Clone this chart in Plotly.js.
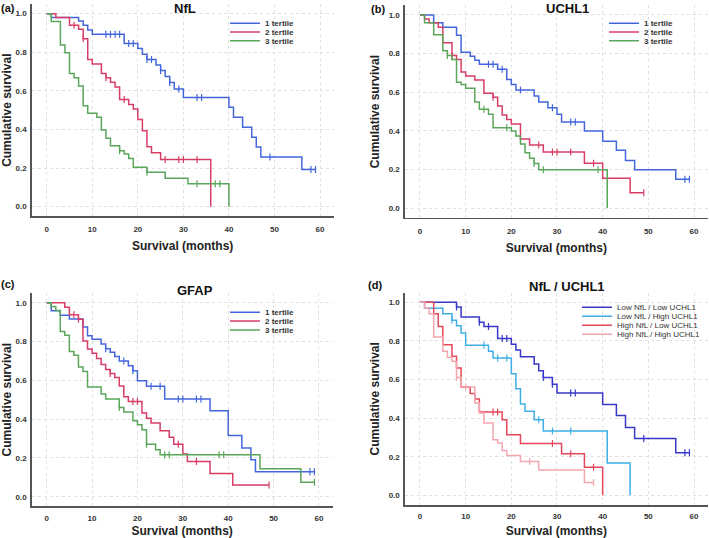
<!DOCTYPE html>
<html>
<head>
<meta charset="utf-8">
<script src="https://cdn.plot.ly/plotly-3.0.1.min.js"></script>
<style>
  body { margin: 0; background: #fff; }
  #chart { width: 709px; height: 538px; }
</style>
</head>
<body>
<div id="chart"></div>
<script>
// ---- data ----
// each curve: event times (months), survival after each event, censored times

// (a) NfL
let nflT1Time = [1, 7, 8, 9, 10, 17, 20, 21, 22, 24, 25, 26, 27, 28, 30, 40, 41, 43, 45, 46, 47, 56];
let nflT1Surv = [0.98, 0.962, 0.94, 0.915, 0.893, 0.846, 0.82, 0.79, 0.763, 0.734, 0.705, 0.674, 0.643, 0.61, 0.566, 0.515, 0.463, 0.412, 0.36, 0.309, 0.257, 0.193];
let nflT1Cens = [13, 14, 15, 16, 18, 19, 22, 23, 25, 27, 29, 33, 34, 49, 58, 59];
let nflT2Time = [2, 5, 7, 8, 9, 10, 12, 13, 14, 15, 16, 18, 19, 20, 21, 22, 23, 25, 36];
let nflT2Surv = [0.98, 0.94, 0.92, 0.87, 0.763, 0.739, 0.69, 0.668, 0.645, 0.62, 0.556, 0.53, 0.506, 0.452, 0.394, 0.311, 0.28, 0.245, 0];
let nflT2Cens = [6, 8, 13, 17, 26, 29, 30, 33];
let nflT3Time = [1, 3, 4, 5, 6, 7, 8, 9, 11, 12, 13, 14, 16, 17, 18, 19, 22, 26, 31, 40];
let nflT3Surv = [0.96, 0.838, 0.798, 0.69, 0.668, 0.625, 0.523, 0.484, 0.463, 0.397, 0.354, 0.316, 0.29, 0.273, 0.25, 0.204, 0.178, 0.147, 0.119, 0];
let nflT3Cens = [16, 22, 33, 37, 38];

// (b) UCHL1
let uchT1Time = [3, 5, 8, 9, 11, 12, 13, 17, 19, 20, 21, 25, 26, 28, 30, 31, 36, 40, 43, 45, 47, 56];
let uchT1Surv = [0.96, 0.936, 0.895, 0.807, 0.786, 0.766, 0.745, 0.719, 0.667, 0.641, 0.612, 0.581, 0.55, 0.52, 0.486, 0.447, 0.40, 0.347, 0.30, 0.248, 0.20, 0.15];
let uchT1Cens = [15, 16, 18, 22, 29, 33, 34, 58, 59];
let uchT2Time = [1, 2, 4, 5, 7, 8, 9, 10, 12, 14, 16, 17, 18, 19, 20, 22, 24, 27, 36, 40, 46];
let uchT2Surv = [0.979, 0.96, 0.936, 0.857, 0.79, 0.77, 0.705, 0.684, 0.664, 0.595, 0.574, 0.529, 0.483, 0.46, 0.436, 0.359, 0.328, 0.291, 0.233, 0.155, 0.081];
let uchT2Cens = [7, 16, 26, 29, 30, 33, 38, 49];
let uchT3Time = [1, 3, 5, 6, 7, 8, 9, 10, 12, 13, 15, 16, 20, 21, 22, 23, 24, 25, 26, 41];
let uchT3Surv = [0.96, 0.898, 0.815, 0.79, 0.77, 0.652, 0.641, 0.621, 0.55, 0.512, 0.486, 0.417, 0.40, 0.374, 0.333, 0.288, 0.259, 0.232, 0.20, 0];
let uchT3Cens = [6, 14, 19, 25, 27, 39];

// (c) GFAP
let gfT1Time = [1, 3, 5, 8, 9, 10, 12, 13, 14, 15, 16, 18, 19, 20, 22, 26, 36, 40, 43, 45, 46];
let gfT1Surv = [0.959, 0.935, 0.916, 0.875, 0.83, 0.811, 0.787, 0.763, 0.745, 0.723, 0.699, 0.675, 0.649, 0.598, 0.569, 0.503, 0.443, 0.316, 0.251, 0.19, 0.129];
let gfT1Cens = [13, 17, 19, 23, 25, 29, 30, 33, 34, 58, 59];
let gfT2Time = [4, 5, 7, 8, 9, 10, 11, 12, 13, 14, 15, 16, 17, 18, 21, 22, 23, 25, 27, 28, 30, 31, 36, 41];
let gfT2Surv = [0.976, 0.938, 0.915, 0.802, 0.761, 0.74, 0.713, 0.682, 0.656, 0.635, 0.615, 0.57, 0.515, 0.491, 0.431, 0.405, 0.38, 0.34, 0.306, 0.271, 0.22, 0.182, 0.12, 0.06];
let gfT2Cens = [6, 7, 14, 19, 20, 29, 33, 49];
let gfT3Time = [1, 2, 3, 4, 5, 6, 7, 8, 9, 12, 13, 16, 17, 19, 20, 21, 22, 24, 25, 47, 56];
let gfT3Surv = [0.98, 0.96, 0.852, 0.832, 0.749, 0.729, 0.668, 0.646, 0.565, 0.529, 0.503, 0.46, 0.436, 0.392, 0.371, 0.345, 0.271, 0.242, 0.216, 0.144, 0.074];
let gfT3Cens = [16, 22, 26, 27, 38, 39, 59];

// (d) NfL / UCHL1
let llTime = [8, 9, 13, 14, 17, 20, 21, 22, 25, 26, 27, 29, 30, 40, 43, 45, 47, 56];
let llSurv = [0.976, 0.924, 0.896, 0.874, 0.813, 0.782, 0.753, 0.718, 0.68, 0.646, 0.61, 0.575, 0.53, 0.47, 0.414, 0.352, 0.294, 0.221];
let llCens = [8, 13, 15, 18, 19, 27, 29, 33, 34, 49, 58, 59];
let lhTime = [1, 5, 7, 8, 9, 10, 15, 16, 20, 21, 22, 23, 25, 27, 41, 46];
let lhSurv = [0.969, 0.941, 0.907, 0.879, 0.841, 0.777, 0.746, 0.712, 0.63, 0.552, 0.473, 0.435, 0.392, 0.333, 0.168, 0];
let lhCens = [7, 14, 17, 19, 26, 29, 33];
let hlTime = [3, 4, 5, 7, 8, 9, 11, 12, 13, 18, 19, 22, 31, 36, 40];
let hlSurv = [0.94, 0.875, 0.78, 0.72, 0.66, 0.56, 0.528, 0.499, 0.432, 0.392, 0.314, 0.268, 0.216, 0.145, 0];
let hlCens = [16, 17, 29, 33, 38];
let hhTime = [1, 2, 3, 5, 6, 7, 8, 9, 12, 13, 14, 16, 17, 18, 19, 22, 26, 36];
let hhSurv = [0.97, 0.94, 0.82, 0.746, 0.715, 0.694, 0.611, 0.561, 0.478, 0.427, 0.375, 0.288, 0.271, 0.233, 0.206, 0.176, 0.131, 0.066];
let hhCens = [8, 10, 24, 38];

let tertileNames = ['1 tertile', '2 tertile', '3 tertile'];
let groupNames = ['Low NfL / Low UCHL1', 'Low NfL / High UCHL1', 'High NfL / Low UCHL1', 'High NfL / High UCHL1'];
let panelTitles = ['NfL', 'UCHL1', 'GFAP', 'NfL / UCHL1'];
let panelLabels = ['(a)', '(b)', '(c)', '(d)'];
let xTicks = [0, 10, 20, 30, 40, 50, 60];
let yTicks = [0, 0.2, 0.4, 0.6, 0.8, 1.0];

// ---- helpers ----
const FONT = 'Liberation Sans, Arial, sans-serif';
const tertileColors = ['#4466dd', '#d83d66', '#5aa65a'];
const groupColors = ['#3838c8', '#3eaee6', '#e5485a', '#f3a6ae'];

// step curve from km data, extended to the last censored time
function stepXY(times, surv, cens) {
  let lastT = times[times.length - 1];
  let end = Math.max(lastT, cens.length ? cens[cens.length - 1] : 0);
  let x = [0].concat(times);
  let y = [1].concat(surv);
  if (end > lastT) { x.push(end); y.push(surv[surv.length - 1]); }
  return { x: x, y: y };
}

function survAt(times, surv, t) {
  let s = 1;
  for (let i = 0; i < times.length; i++) if (times[i] <= t) s = surv[i];
  return s;
}

let data = [];
let legendCount = 0;

function addCurve(times, surv, cens, name, color, axisNum) {
  let xa = axisNum === 1 ? 'x' : 'x' + axisNum;
  let ya = axisNum === 1 ? 'y' : 'y' + axisNum;
  legendCount++;
  let leg = legendCount === 1 ? 'legend' : 'legend' + legendCount;
  let xy = stepXY(times, surv, cens);
  data.push({
    x: xy.x, y: xy.y, xaxis: xa, yaxis: ya,
    type: 'scatter', mode: 'lines', name: name,
    line: { shape: 'hv', color: color, width: 1.5 },
    legend: leg
  });
  data.push({
    x: cens, y: cens.map(t => survAt(times, surv, t)), xaxis: xa, yaxis: ya,
    type: 'scatter', mode: 'markers', showlegend: false,
    marker: { symbol: 'line-ns', size: 5, line: { color: color, width: 1.2 } }
  });
}

addCurve(nflT1Time, nflT1Surv, nflT1Cens, tertileNames[0], tertileColors[0], 1);
addCurve(nflT2Time, nflT2Surv, nflT2Cens, tertileNames[1], tertileColors[1], 1);
addCurve(nflT3Time, nflT3Surv, nflT3Cens, tertileNames[2], tertileColors[2], 1);
addCurve(uchT1Time, uchT1Surv, uchT1Cens, tertileNames[0], tertileColors[0], 2);
addCurve(uchT2Time, uchT2Surv, uchT2Cens, tertileNames[1], tertileColors[1], 2);
addCurve(uchT3Time, uchT3Surv, uchT3Cens, tertileNames[2], tertileColors[2], 2);
addCurve(gfT1Time, gfT1Surv, gfT1Cens, tertileNames[0], tertileColors[0], 3);
addCurve(gfT2Time, gfT2Surv, gfT2Cens, tertileNames[1], tertileColors[1], 3);
addCurve(gfT3Time, gfT3Surv, gfT3Cens, tertileNames[2], tertileColors[2], 3);
addCurve(llTime, llSurv, llCens, groupNames[0], groupColors[0], 4);
addCurve(lhTime, lhSurv, lhCens, groupNames[1], groupColors[1], 4);
addCurve(hlTime, hlSurv, hlCens, groupNames[2], groupColors[2], 4);
addCurve(hhTime, hhSurv, hhCens, groupNames[3], groupColors[3], 4);

// ---- layout ----
const W = 709, H = 538;

function xAxis(domain, anchor, labelGap, titleGap) {
  return {
    domain: domain, anchor: anchor, range: [-3.3, 63],
    tickvals: xTicks, showline: true, linecolor: '#555', linewidth: 1.5,
    showgrid: true, gridcolor: '#e0e0e0', griddash: 'dot', gridwidth: 1,
    zeroline: false, ticks: '', ticklabelstandoff: labelGap,
    tickfont: { family: FONT, size: 8, color: '#333', weight: 'bold' },
    title: { text: 'Survival (months)', standoff: titleGap,
             font: { family: FONT, size: 12, color: '#222', weight: 'bold' } }
  };
}
function yAxis(domain, anchor) {
  return {
    domain: domain, anchor: anchor, range: [-0.05, 1.05],
    tickvals: yTicks, tickformat: '.1f', showline: true, linecolor: '#555', linewidth: 1.5,
    showgrid: true, gridcolor: '#e0e0e0', griddash: 'dot', gridwidth: 1,
    zeroline: false, ticks: '', ticklabelstandoff: 2,
    tickfont: { family: FONT, size: 8, color: '#333', weight: 'bold' },
    title: { text: 'Cumulative survival', standoff: 6,
             font: { family: FONT, size: 12, color: '#222', weight: 'bold' } }
  };
}

let layout = {
  width: W, height: H,
  margin: { l: 0, r: 0, t: 0, b: 0 },
  paper_bgcolor: '#fff', plot_bgcolor: '#fff',
  font: { family: FONT },
  xaxis:  xAxis([0.0447, 0.4707], 'y', 5, 8),
  yaxis:  yAxis([0.5979, 0.9925], 'x'),
  xaxis2: xAxis([0.5711, 0.9982], 'y2', 5, 8),
  yaxis2: yAxis([0.5948, 0.9901], 'x2'),
  xaxis3: xAxis([0.0447, 0.4691], 'y3', 3, 13),
  yaxis3: yAxis([0.0587, 0.4554], 'x3'),
  xaxis4: xAxis([0.5711, 0.9982], 'y4', 3, 13),
  yaxis4: yAxis([0.0613, 0.4561], 'x4'),
  annotations: []
};

// one legend per entry so rows can sit close together
let legendSpots = [
  [265, 23.3], [265, 32], [265, 40.7],
  [644, 23.3], [644, 32], [644, 40.7],
  [265, 312.3], [265, 321], [265, 330],
  [617, 307.3], [617, 316.3], [617, 325.3], [617, 334.3]
];
legendSpots.forEach((p, i) => {
  let key = i === 0 ? 'legend' : 'legend' + (i + 1);
  layout[key] = {
    x: (p[0] - 40) / W, y: 1 - p[1] / H, xanchor: 'left', yanchor: 'middle',
    bgcolor: 'rgba(0,0,0,0)', borderwidth: 0,
    font: { family: FONT, size: 8, color: '#333', weight: i < 9 ? 'bold' : 'normal' }
  };
});

// panel titles and letters
let titleSpots = [[185, 8], [567.8, 8], [194.7, 290], [567, 286.7]];
let labelSpots = [[8.3, 8.3], [378.2, 9], [8.3, 284.2], [374.8, 284.5]];
panelTitles.forEach((t, i) => {
  layout.annotations.push({
    text: t, xref: 'paper', yref: 'paper', showarrow: false,
    x: titleSpots[i][0] / W, y: 1 - titleSpots[i][1] / H, xanchor: 'center', yanchor: 'middle',
    font: { family: FONT, size: 13, color: '#111', weight: 'bold' }
  });
  layout.annotations.push({
    text: panelLabels[i], xref: 'paper', yref: 'paper', showarrow: false,
    x: labelSpots[i][0] / W, y: 1 - labelSpots[i][1] / H, xanchor: 'center', yanchor: 'middle',
    font: { family: FONT, size: 11, color: '#111', weight: 'bold' }
  });
});

Plotly.newPlot('chart', data, layout, { staticPlot: true });
</script>
</body>
</html>
